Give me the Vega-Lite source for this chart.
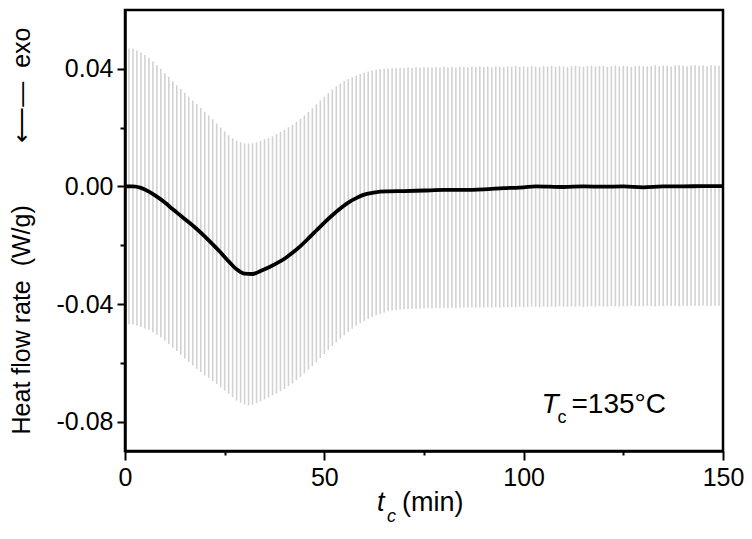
{
  "$schema": "https://vega.github.io/schema/vega-lite/v6.json",
  "width": 598,
  "height": 441,
  "autosize": "none",
  "padding": {"left": 125, "top": 10, "right": 29, "bottom": 88},
  "background": "white",
  "config": {
    "view": {"stroke": "black", "strokeWidth": 2.5},
    "font": "Liberation Sans",
    "axis": {
      "domainColor": "black", "domainWidth": 2.5, "tickColor": "black", "tickWidth": 2,
      "labelColor": "black", "labelFont": "Liberation Sans", "labelFontSize": 25,
      "titleFont": "Liberation Sans", "titleFontSize": 25, "titleFontWeight": "normal", "titleColor": "black",
      "grid": false, "labelOverlap": false, "labelFlush": false
    }
  },
  "datasets": {
    "env": [
      {"t":1,"hi":0.0469,"lo":-0.0469},{"t":2,"hi":0.0468,"lo":-0.0470},{"t":3,"hi":0.0462,"lo":-0.0474},{"t":4,"hi":0.0455,"lo":-0.0478},{"t":5,"hi":0.0447,"lo":-0.0483},
      {"t":6,"hi":0.0437,"lo":-0.0488},{"t":7,"hi":0.0425,"lo":-0.0496},{"t":8,"hi":0.0412,"lo":-0.0505},{"t":9,"hi":0.0399,"lo":-0.0514},{"t":10,"hi":0.0385,"lo":-0.0524},
      {"t":11,"hi":0.0372,"lo":-0.0536},{"t":12,"hi":0.0358,"lo":-0.0548},{"t":13,"hi":0.0344,"lo":-0.0560},{"t":14,"hi":0.0331,"lo":-0.0573},{"t":15,"hi":0.0318,"lo":-0.0585},
      {"t":16,"hi":0.0305,"lo":-0.0597},{"t":17,"hi":0.0292,"lo":-0.0609},{"t":18,"hi":0.0280,"lo":-0.0620},{"t":19,"hi":0.0267,"lo":-0.0631},{"t":20,"hi":0.0254,"lo":-0.0642},
      {"t":21,"hi":0.0241,"lo":-0.0652},{"t":22,"hi":0.0228,"lo":-0.0662},{"t":23,"hi":0.0214,"lo":-0.0672},{"t":24,"hi":0.0200,"lo":-0.0683},{"t":25,"hi":0.0187,"lo":-0.0694},
      {"t":26,"hi":0.0174,"lo":-0.0705},{"t":27,"hi":0.0164,"lo":-0.0717},{"t":28,"hi":0.0155,"lo":-0.0728},{"t":29,"hi":0.0150,"lo":-0.0736},{"t":30,"hi":0.0146,"lo":-0.0742},
      {"t":31,"hi":0.0146,"lo":-0.0744},{"t":32,"hi":0.0147,"lo":-0.0743},{"t":33,"hi":0.0150,"lo":-0.0738},{"t":34,"hi":0.0155,"lo":-0.0732},{"t":35,"hi":0.0160,"lo":-0.0725},
      {"t":36,"hi":0.0165,"lo":-0.0718},{"t":37,"hi":0.0171,"lo":-0.0711},{"t":38,"hi":0.0178,"lo":-0.0704},{"t":39,"hi":0.0185,"lo":-0.0697},{"t":40,"hi":0.0193,"lo":-0.0689},
      {"t":41,"hi":0.0201,"lo":-0.0680},{"t":42,"hi":0.0210,"lo":-0.0670},{"t":43,"hi":0.0220,"lo":-0.0659},{"t":44,"hi":0.0230,"lo":-0.0648},{"t":45,"hi":0.0241,"lo":-0.0636},
      {"t":46,"hi":0.0253,"lo":-0.0624},{"t":47,"hi":0.0266,"lo":-0.0611},{"t":48,"hi":0.0279,"lo":-0.0598},{"t":49,"hi":0.0292,"lo":-0.0584},{"t":50,"hi":0.0305,"lo":-0.0570},
      {"t":51,"hi":0.0318,"lo":-0.0556},{"t":52,"hi":0.0330,"lo":-0.0543},{"t":53,"hi":0.0340,"lo":-0.0530},{"t":54,"hi":0.0350,"lo":-0.0518},{"t":55,"hi":0.0358,"lo":-0.0506},
      {"t":56,"hi":0.0365,"lo":-0.0495},{"t":57,"hi":0.0371,"lo":-0.0484},{"t":58,"hi":0.0377,"lo":-0.0474},{"t":59,"hi":0.0382,"lo":-0.0466},{"t":60,"hi":0.0387,"lo":-0.0458},
      {"t":61,"hi":0.0391,"lo":-0.0451},{"t":62,"hi":0.0394,"lo":-0.0444},{"t":63,"hi":0.0397,"lo":-0.0438},{"t":64,"hi":0.0399,"lo":-0.0433},{"t":65,"hi":0.0400,"lo":-0.0429},
      {"t":66,"hi":0.0401,"lo":-0.0425},{"t":67,"hi":0.0402,"lo":-0.0422},{"t":68,"hi":0.0402,"lo":-0.0420},{"t":69,"hi":0.0403,"lo":-0.0419},{"t":70,"hi":0.0403,"lo":-0.0418},
      {"t":71,"hi":0.0404,"lo":-0.0417},{"t":72,"hi":0.0403,"lo":-0.0416},{"t":73,"hi":0.0405,"lo":-0.0416},{"t":74,"hi":0.0404,"lo":-0.0415},{"t":75,"hi":0.0406,"lo":-0.0415},
      {"t":76,"hi":0.0405,"lo":-0.0414},{"t":77,"hi":0.0404,"lo":-0.0415},{"t":78,"hi":0.0406,"lo":-0.0414},{"t":79,"hi":0.0405,"lo":-0.0414},{"t":80,"hi":0.0407,"lo":-0.0413},
      {"t":81,"hi":0.0405,"lo":-0.0414},{"t":82,"hi":0.0406,"lo":-0.0413},{"t":83,"hi":0.0404,"lo":-0.0414},{"t":84,"hi":0.0407,"lo":-0.0413},{"t":85,"hi":0.0406,"lo":-0.0412},
      {"t":86,"hi":0.0405,"lo":-0.0413},{"t":87,"hi":0.0407,"lo":-0.0412},{"t":88,"hi":0.0406,"lo":-0.0413},{"t":89,"hi":0.0408,"lo":-0.0412},{"t":90,"hi":0.0406,"lo":-0.0412},
      {"t":91,"hi":0.0407,"lo":-0.0411},{"t":92,"hi":0.0405,"lo":-0.0412},{"t":93,"hi":0.0408,"lo":-0.0411},{"t":94,"hi":0.0407,"lo":-0.0412},{"t":95,"hi":0.0406,"lo":-0.0410},
      {"t":96,"hi":0.0408,"lo":-0.0411},{"t":97,"hi":0.0407,"lo":-0.0410},{"t":98,"hi":0.0409,"lo":-0.0411},{"t":99,"hi":0.0406,"lo":-0.0410},{"t":100,"hi":0.0408,"lo":-0.0411},
      {"t":101,"hi":0.0407,"lo":-0.0410},{"t":102,"hi":0.0409,"lo":-0.0409},{"t":103,"hi":0.0408,"lo":-0.0410},{"t":104,"hi":0.0406,"lo":-0.0411},{"t":105,"hi":0.0409,"lo":-0.0409},
      {"t":106,"hi":0.0408,"lo":-0.0410},{"t":107,"hi":0.0410,"lo":-0.0409},{"t":108,"hi":0.0407,"lo":-0.0410},{"t":109,"hi":0.0409,"lo":-0.0408},{"t":110,"hi":0.0408,"lo":-0.0409},
      {"t":111,"hi":0.0406,"lo":-0.0410},{"t":112,"hi":0.0409,"lo":-0.0408},{"t":113,"hi":0.0410,"lo":-0.0409},{"t":114,"hi":0.0408,"lo":-0.0408},{"t":115,"hi":0.0407,"lo":-0.0410},
      {"t":116,"hi":0.0409,"lo":-0.0409},{"t":117,"hi":0.0411,"lo":-0.0408},{"t":118,"hi":0.0408,"lo":-0.0409},{"t":119,"hi":0.0409,"lo":-0.0407},{"t":120,"hi":0.0410,"lo":-0.0408},
      {"t":121,"hi":0.0407,"lo":-0.0409},{"t":122,"hi":0.0409,"lo":-0.0407},{"t":123,"hi":0.0411,"lo":-0.0408},{"t":124,"hi":0.0408,"lo":-0.0409},{"t":125,"hi":0.0410,"lo":-0.0407},
      {"t":126,"hi":0.0409,"lo":-0.0408},{"t":127,"hi":0.0407,"lo":-0.0406},{"t":128,"hi":0.0410,"lo":-0.0408},{"t":129,"hi":0.0411,"lo":-0.0407},{"t":130,"hi":0.0409,"lo":-0.0408},
      {"t":131,"hi":0.0408,"lo":-0.0406},{"t":132,"hi":0.0410,"lo":-0.0407},{"t":133,"hi":0.0412,"lo":-0.0408},{"t":134,"hi":0.0409,"lo":-0.0406},{"t":135,"hi":0.0411,"lo":-0.0407},
      {"t":136,"hi":0.0410,"lo":-0.0405},{"t":137,"hi":0.0408,"lo":-0.0407},{"t":138,"hi":0.0411,"lo":-0.0406},{"t":139,"hi":0.0412,"lo":-0.0408},{"t":140,"hi":0.0410,"lo":-0.0406},
      {"t":141,"hi":0.0409,"lo":-0.0407},{"t":142,"hi":0.0411,"lo":-0.0405},{"t":143,"hi":0.0412,"lo":-0.0406},{"t":144,"hi":0.0410,"lo":-0.0407},{"t":145,"hi":0.0411,"lo":-0.0405},
      {"t":146,"hi":0.0409,"lo":-0.0406},{"t":147,"hi":0.0412,"lo":-0.0407},{"t":148,"hi":0.0411,"lo":-0.0405},{"t":149,"hi":0.0410,"lo":-0.0406}
    ],
    "mean": [
      {"t":0,"v":0.0000},{"t":2,"v":0.0000},{"t":4,"v":-0.0005},{"t":6,"v":-0.0018},{"t":8,"v":-0.0035},
      {"t":10,"v":-0.0055},{"t":12,"v":-0.0078},{"t":14,"v":-0.0100},{"t":16,"v":-0.0122},{"t":18,"v":-0.0145},
      {"t":20,"v":-0.0170},{"t":22,"v":-0.0197},{"t":24,"v":-0.0225},{"t":26,"v":-0.0255},{"t":28,"v":-0.0282},
      {"t":30,"v":-0.0297},{"t":32,"v":-0.0298},{"t":34,"v":-0.0288},{"t":36,"v":-0.0276},{"t":38,"v":-0.0262},
      {"t":40,"v":-0.0246},{"t":42,"v":-0.0226},{"t":44,"v":-0.0203},{"t":46,"v":-0.0177},{"t":48,"v":-0.0150},
      {"t":50,"v":-0.0123},{"t":52,"v":-0.0098},{"t":54,"v":-0.0075},{"t":56,"v":-0.0055},{"t":58,"v":-0.0040},
      {"t":60,"v":-0.0028},{"t":62,"v":-0.0022},{"t":64,"v":-0.0018},{"t":66,"v":-0.0017},{"t":70,"v":-0.0016},
      {"t":75,"v":-0.0014},{"t":80,"v":-0.0012},{"t":85,"v":-0.0012},{"t":90,"v":-0.0010},{"t":95,"v":-0.0006},
      {"t":100,"v":-0.0003},{"t":103,"v":0.0000},{"t":110,"v":-0.0002},{"t":115,"v":0.0000},{"t":120,"v":-0.0001},
      {"t":125,"v":0.0000},{"t":130,"v":-0.0003},{"t":135,"v":0.0000},{"t":140,"v":0.0000},{"t":145,"v":0.0001},{"t":150,"v":0.0001}
    ]
  },
  "layer": [
    {
      "data": {"name": "env"},
      "mark": {"type": "rule", "color": "#d2d2d2", "strokeWidth": 1.6},
      "encoding": {
        "x": {"field": "t", "type": "quantitative", "scale": {"domain": [0, 150], "nice": false},
          "axis": {"values": [0, 25, 50, 75, 100, 125, 150], "title": null,
            "labelExpr": "datum.value % 50 == 0 ? datum.label : ''",
            "tickSize": {"condition": {"test": "datum.value % 50 != 0", "value": 4}, "value": 9},
            "labelPadding": 5}},
        "y": {"field": "hi", "type": "quantitative", "scale": {"domain": [-0.09, 0.06], "nice": false, "zero": false},
          "axis": {"values": [-0.08, -0.06, -0.04, -0.02, 0, 0.02, 0.04],
            "labelExpr": "abs(round(datum.value*100)) % 4 == 2 ? '' : (datum.value < 0 ? '-' : '') + format(abs(datum.value), '.2f')",
            "tickSize": {"condition": {"test": "abs(round(datum.value*100)) % 4 == 2", "value": 5}, "value": 8},
            "labelPadding": 4, "titlePadding": 22,
            "title": "Heat flow rate\u00a0\u00a0(W/g)\u00a0\u00a0\u00a0\u00a0\u00a0\u00a0\u00a0\u00a0\u00a0⟵—\u00a0\u00a0exo"}},
        "y2": {"field": "lo"}
      }
    },
    {
      "data": {"name": "mean"},
      "mark": {"type": "line", "color": "black", "strokeWidth": 3.8, "interpolate": "monotone"},
      "encoding": {
        "x": {"field": "t", "type": "quantitative"},
        "y": {"field": "v", "type": "quantitative"}
      }
    },
    {
      "data": {"values": [{"t": 112, "v": -0.077, "label": "=135°C"}]},
      "mark": {"type": "text", "align": "left", "baseline": "alphabetic", "fontSize": 28, "font": "Liberation Sans", "color": "black"},
      "encoding": {"x": {"field": "t", "type": "quantitative"}, "y": {"field": "v", "type": "quantitative"}, "text": {"field": "label"}}
    },
    {
      "data": {"values": [{"t": 112, "v": -0.077, "label": "T"}]},
      "mark": {"type": "text", "align": "right", "baseline": "alphabetic", "dx": -13, "fontSize": 28, "fontStyle": "italic", "font": "Liberation Sans", "color": "black"},
      "encoding": {"x": {"field": "t", "type": "quantitative"}, "y": {"field": "v", "type": "quantitative"}, "text": {"field": "label"}}
    },
    {
      "data": {"values": [{"t": 112, "v": -0.077, "label": "c"}]},
      "mark": {"type": "text", "align": "left", "baseline": "alphabetic", "dx": -14, "dy": 10, "fontSize": 18, "font": "Liberation Sans", "color": "black"},
      "encoding": {"x": {"field": "t", "type": "quantitative"}, "y": {"field": "v", "type": "quantitative"}, "text": {"field": "label"}}
    },
    {
      "data": {"values": [{"t": 75, "v": -0.1104, "label": "t"}]},
      "mark": {"type": "text", "align": "left", "baseline": "alphabetic", "dx": -47, "fontSize": 27, "fontStyle": "italic", "font": "Liberation Sans", "color": "black"},
      "encoding": {"x": {"field": "t", "type": "quantitative"}, "y": {"field": "v", "type": "quantitative"}, "text": {"field": "label"}}
    },
    {
      "data": {"values": [{"t": 75, "v": -0.1104, "label": "c"}]},
      "mark": {"type": "text", "align": "left", "baseline": "alphabetic", "dx": -37, "dy": 11, "fontSize": 18, "fontStyle": "italic", "font": "Liberation Sans", "color": "black"},
      "encoding": {"x": {"field": "t", "type": "quantitative"}, "y": {"field": "v", "type": "quantitative"}, "text": {"field": "label"}}
    },
    {
      "data": {"values": [{"t": 75, "v": -0.1104, "label": "(min)"}]},
      "mark": {"type": "text", "align": "left", "baseline": "alphabetic", "dx": -22, "fontSize": 27, "font": "Liberation Sans", "color": "black"},
      "encoding": {"x": {"field": "t", "type": "quantitative"}, "y": {"field": "v", "type": "quantitative"}, "text": {"field": "label"}}
    }
  ]
}
